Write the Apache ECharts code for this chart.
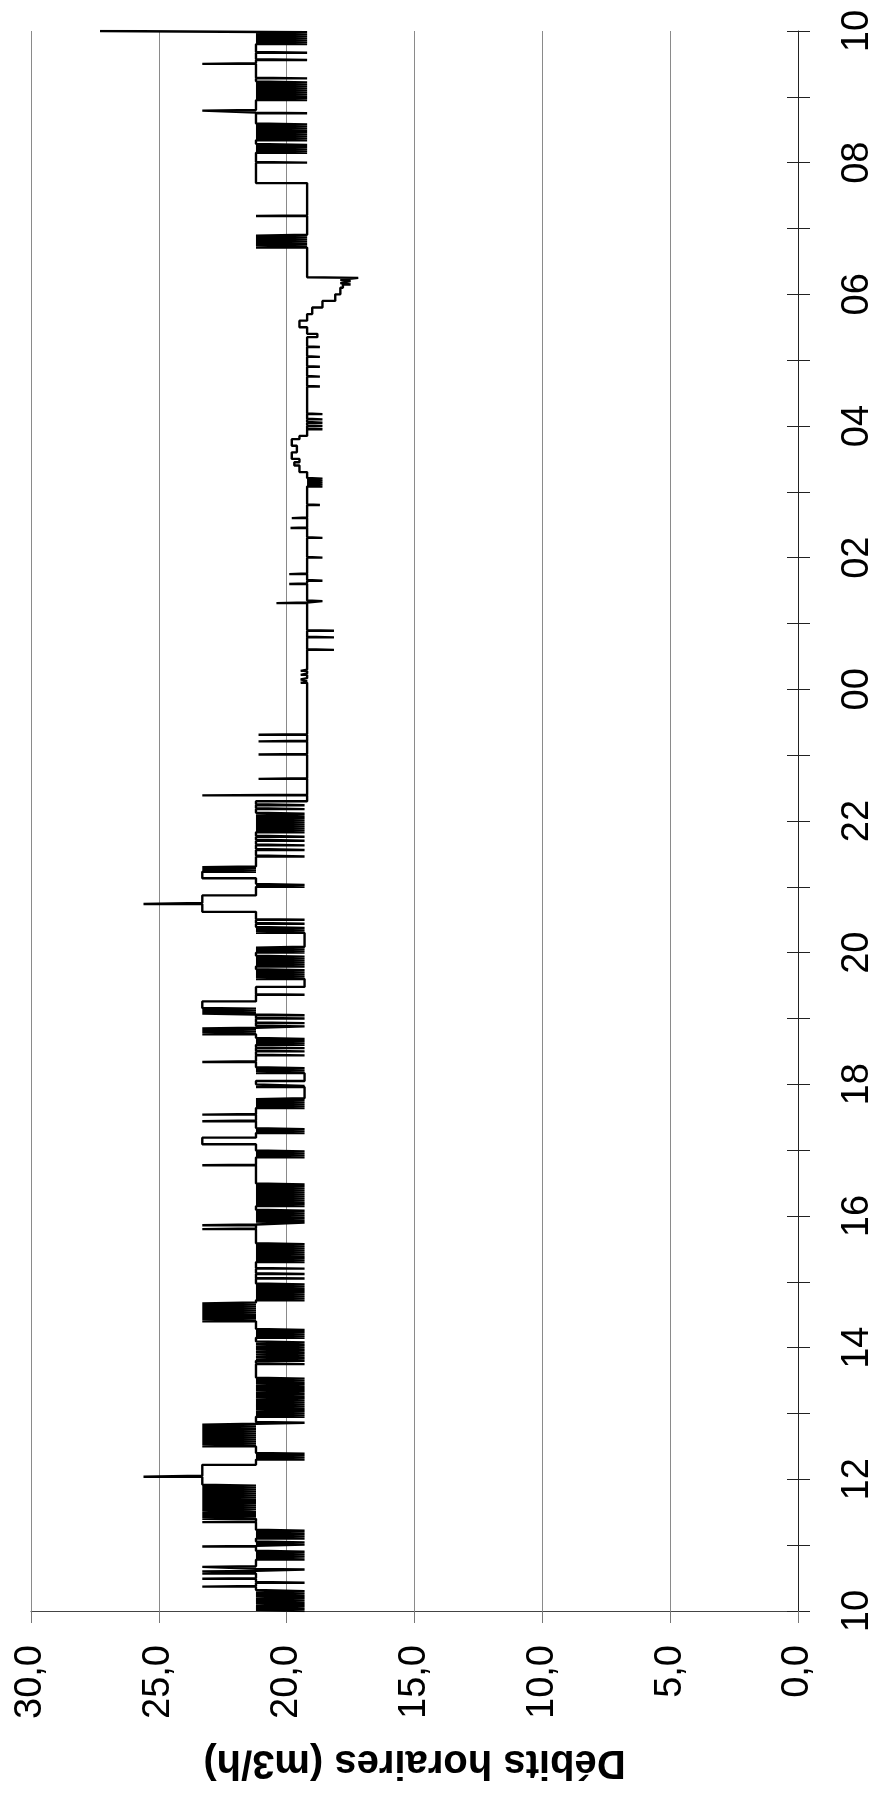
<!DOCTYPE html>
<html>
<head>
<meta charset="utf-8">
<script src="https://cdn.jsdelivr.net/npm/echarts@6/dist/echarts.min.js"></script>
<style>
html,body{margin:0;padding:0;background:#fff;}
#chart{width:877px;height:1795px;}
</style>
</head>
<body>
<div id="chart"></div>
<script>
// Value axis ticks (m3/h) and hour labels
const valueTicks = [0, 5, 10, 15, 20, 25, 30];
const hourLabels = ['10','12','14','16','18','20','22','00','02','04','06','08','10'];
const axisName = 'Débits horaires (m3/h)';

// Samples: [hours since 10:00, flow m3/h]; each value holds until the next sample
const flowDay = [
[0.00,19.3],[0.02,21.2],[0.035,19.3],[0.05,21.2],[0.07,19.3],[0.085,21.2],[0.10,19.3],[0.12,21.2],[0.135,19.3],[0.15,21.2],[0.17,19.3],[0.185,21.2],[0.20,19.3],[0.22,21.2],[0.235,19.3],[0.25,21.2],[0.27,19.3],[0.285,21.2],[0.30,19.3],[0.32,21.2],
[0.37,23.3],[0.38,21.2],[0.43,19.3],[0.44,21.2],[0.49,23.3],[0.50,21.2],[0.57,23.3],[0.58,21.2],[0.60,23.3],[0.61,21.2],[0.63,19.3],[0.64,21.2],[0.67,23.3],[0.68,21.2],
[0.78,19.3],[0.795,21.2],[0.81,19.3],[0.825,21.2],[0.84,19.3],[0.855,21.2],[0.87,19.3],[0.885,21.2],[0.90,19.3],[0.915,21.2],
[0.98,23.3],[0.99,21.2],[1.01,19.3],[1.025,21.2],[1.04,19.3],[1.055,21.2],
[1.10,19.3],[1.115,21.2],[1.13,19.3],[1.145,21.2],[1.16,19.3],[1.175,21.2],[1.19,19.3],[1.205,21.2],[1.22,19.3],[1.235,21.2],
[1.35,23.3],[1.36,21.2],
[1.40,23.3],[1.415,21.2],[1.43,23.3],[1.445,21.2],[1.46,23.3],[1.475,21.2],[1.49,23.3],[1.50,21.2],[1.53,23.3],[1.545,21.2],[1.56,23.3],[1.575,21.2],[1.59,23.3],[1.605,21.2],[1.62,23.3],[1.635,21.2],[1.65,23.3],[1.665,21.2],[1.68,23.3],[1.695,21.2],[1.71,23.3],[1.725,21.2],[1.74,23.3],[1.755,21.2],[1.77,23.3],[1.785,21.2],[1.80,23.3],[1.815,21.2],[1.83,23.3],[1.845,21.2],[1.86,23.3],[1.875,21.2],[1.89,23.3],[1.905,21.2],[1.92,23.3],
[2.04,25.6],[2.055,23.3],
[2.22,21.2],
[2.30,19.3],[2.315,21.2],[2.33,19.3],[2.345,21.2],[2.36,19.3],[2.375,21.2],[2.39,19.3],[2.40,21.2],
[2.50,23.3],[2.515,21.2],[2.53,23.3],[2.545,21.2],[2.56,23.3],[2.575,21.2],[2.59,23.3],[2.605,21.2],[2.62,23.3],[2.635,21.2],[2.65,23.3],[2.665,21.2],[2.68,23.3],[2.695,21.2],[2.71,23.3],[2.725,21.2],[2.74,23.3],[2.755,21.2],[2.77,23.3],[2.785,21.2],[2.80,23.3],[2.815,21.2],[2.83,23.3],[2.845,21.2],
[2.86,19.3],[2.87,21.2],
[2.95,19.3],[2.965,21.2],[2.98,19.3],[2.995,21.2],[3.01,19.3],[3.025,21.2],[3.04,19.3],[3.06,21.2],[3.075,19.3],[3.09,21.2],[3.105,19.3],[3.12,21.2],[3.14,19.3],[3.155,21.2],[3.17,19.3],[3.185,21.2],[3.20,19.3],[3.215,21.2],[3.24,19.3],[3.255,21.2],[3.27,19.3],[3.285,21.2],[3.30,19.3],[3.315,21.2],[3.34,19.3],[3.355,21.2],[3.37,19.3],[3.385,21.2],[3.40,19.3],[3.415,21.2],[3.44,19.3],[3.455,21.2],[3.47,19.3],[3.485,21.2],[3.50,19.3],[3.515,21.2],[3.53,19.3],[3.545,21.2],
[3.75,19.3],[3.765,21.2],[3.80,19.3],[3.815,21.2],[3.84,19.3],[3.855,21.2],[3.88,19.3],[3.895,21.2],[3.92,19.3],[3.935,21.2],[3.96,19.3],[3.975,21.2],[4.00,19.3],[4.015,21.2],[4.04,19.3],[4.055,21.2],[4.08,19.3],[4.095,21.2],
[4.15,19.3],[4.165,21.2],[4.18,19.3],[4.195,21.2],[4.21,19.3],[4.225,21.2],[4.24,19.3],[4.255,21.2],[4.27,19.3],[4.285,21.2],
[4.40,23.3],[4.415,21.2],[4.43,23.3],[4.445,21.2],[4.46,23.3],[4.475,21.2],[4.49,23.3],[4.505,21.2],[4.52,23.3],[4.535,21.2],[4.55,23.3],[4.565,21.2],[4.58,23.3],[4.595,21.2],[4.61,23.3],[4.625,21.2],[4.64,23.3],[4.655,21.2],[4.67,23.3],[4.685,21.2],
[4.72,19.3],[4.735,21.2],[4.75,19.3],[4.765,21.2],[4.78,19.3],[4.795,21.2],[4.81,19.3],[4.825,21.2],[4.84,19.3],[4.855,21.2],[4.87,19.3],[4.885,21.2],[4.90,19.3],[4.915,21.2],[4.93,19.3],[4.945,21.2],[4.96,19.3],[4.975,21.2],
[5.05,19.3],[5.06,21.2],[5.12,19.3],[5.13,21.2],[5.20,19.3],[5.21,21.2],
[5.30,19.3],[5.315,21.2],[5.33,19.3],[5.345,21.2],[5.36,19.3],[5.375,21.2],[5.39,19.3],[5.405,21.2],[5.42,19.3],[5.435,21.2],[5.45,19.3],[5.465,21.2],[5.48,19.3],[5.495,21.2],[5.51,19.3],[5.525,21.2],[5.54,19.3],[5.555,21.2],[5.57,19.3],[5.585,21.2],
[5.80,23.3],[5.81,21.2],[5.86,23.3],[5.87,21.2],
[5.90,19.3],[5.915,21.2],[5.93,19.3],[5.945,21.2],[5.96,19.3],[5.975,21.2],[5.99,19.3],[6.005,21.2],[6.02,19.3],[6.035,21.2],[6.05,19.3],[6.065,21.2],[6.08,19.3],[6.095,21.2],
[6.15,19.3],[6.165,21.2],[6.18,19.3],[6.195,21.2],[6.21,19.3],[6.225,21.2],[6.24,19.3],[6.255,21.2],[6.27,19.3],[6.285,21.2],[6.30,19.3],[6.315,21.2],[6.33,19.3],[6.345,21.2],[6.36,19.3],[6.375,21.2],[6.39,19.3],[6.405,21.2],[6.42,19.3],[6.435,21.2],[6.45,19.3],[6.465,21.2],[6.48,19.3],[6.495,21.2],
[6.77,23.3],[6.78,21.2],
[6.89,19.3],[6.905,21.2],[6.92,19.3],[6.935,21.2],[6.95,19.3],[6.965,21.2],[6.98,19.3],[6.995,21.2]
];

const flowEvening = [
[7.09,23.3],[7.19,21.2],
[7.26,19.3],[7.275,21.2],[7.29,19.3],[7.305,21.2],[7.32,19.3],[7.335,21.2],
[7.44,23.3],[7.45,21.2],[7.54,23.3],[7.55,21.2],
[7.64,19.3],[7.655,21.2],[7.67,19.3],[7.685,21.2],[7.70,19.3],[7.715,21.2],[7.73,19.3],[7.745,21.2],[7.76,19.3],[7.775,21.2],
[7.79,19.3],[7.96,21.2],[7.975,19.3],[8.00,21.2],[8.05,19.3],[8.17,21.2],[8.185,19.3],[8.20,21.2],[8.215,19.3],[8.23,21.2],[8.245,19.3],[8.26,21.2],
[8.34,23.3],[8.35,21.2],
[8.44,19.3],[8.45,21.2],[8.50,19.3],[8.51,21.2],[8.55,19.3],[8.56,21.2],
[8.60,19.3],[8.615,21.2],[8.63,19.3],[8.645,21.2],[8.66,19.3],[8.675,21.2],[8.69,19.3],[8.705,21.2],
[8.76,23.3],[8.775,21.2],[8.79,23.3],[8.805,21.2],[8.82,23.3],[8.835,21.2],[8.85,23.3],[8.86,21.2],
[8.88,19.3],[8.89,21.2],[8.93,19.3],[8.94,21.2],
[9.00,19.3],[9.01,21.2],[9.05,19.3],[9.06,21.2],
[9.075,23.3],[9.09,21.2],[9.105,23.3],[9.12,21.2],[9.135,23.3],[9.15,21.2],[9.16,23.3],[9.26,21.2],
[9.36,19.3],[9.37,21.2],[9.48,19.3],[9.60,21.2],
[9.615,19.3],[9.63,21.2],[9.645,19.3],[9.66,21.2],[9.675,19.3],[9.69,21.2],[9.705,19.3],[9.72,21.2],[9.735,19.3],[9.75,21.2],
[9.79,19.3],[9.805,21.2],[9.82,19.3],[9.835,21.2],[9.85,19.3],[9.865,21.2],[9.88,19.3],[9.895,21.2],[9.91,19.3],[9.925,21.2],[9.94,19.3],[9.955,21.2],
[10.00,19.3],[10.015,21.2],[10.03,19.3],[10.045,21.2],[10.06,19.3],[10.075,21.2],[10.09,19.3],
[10.30,21.2],[10.315,19.3],[10.33,21.2],[10.345,19.3],[10.36,21.2],[10.375,19.3],[10.39,21.2],[10.44,19.3],[10.45,21.2],[10.50,19.3],[10.51,21.2],
[10.62,23.3],[10.74,25.6],[10.755,23.3],[10.87,21.2],
[11.00,19.3],[11.015,21.2],[11.03,19.3],[11.045,21.2],
[11.13,23.3],[11.23,21.2],[11.24,23.3],[11.255,21.2],[11.27,23.3],[11.285,21.2],[11.30,23.3],[11.31,21.2],
[11.46,19.3],[11.475,21.2],[11.56,19.3],[11.575,21.2],[11.63,19.3],[11.645,21.2],[11.70,19.3],[11.715,21.2],[11.76,19.3],[11.775,21.2],
[11.83,19.3],[11.845,21.2],[11.86,19.3],[11.875,21.2],[11.89,19.3],[11.905,21.2],[11.92,19.3],[11.935,21.2],[11.95,19.3],[11.965,21.2],[11.98,19.3],[11.995,21.2],[12.01,19.3],[12.025,21.2],[12.04,19.3],[12.055,21.2],[12.07,19.3],[12.085,21.2],
[12.11,19.3],[12.125,21.2],[12.18,19.3],[12.195,21.2],[12.24,19.3],[12.255,21.2],[12.30,19.2],
[12.39,23.3],[12.40,19.2],
[12.64,21.1],[12.65,19.2],[13.01,21.1],[13.02,19.2],[13.21,21.1],[13.22,19.2],[13.31,21.1],[13.32,19.2]
];

const flowNight = [
[14.10,19.45],[14.12,19.2],[14.15,19.45],[14.17,19.2],[14.22,19.45],[14.24,19.2],[14.28,19.45],[14.30,19.2],
[14.60,18.15],[14.61,19.2],[14.79,18.15],[14.80,19.2],[14.89,18.15],[14.90,19.2],
[15.31,20.4],[15.32,19.2],[15.34,18.6],[15.35,19.2],
[15.60,19.9],[15.61,19.2],[15.65,18.6],[15.66,19.2],[15.75,19.9],[15.76,19.2],
[16.00,18.6],[16.01,19.2],
[16.30,18.6],[16.31,19.2],[16.45,19.85],[16.46,19.2],[16.60,19.8],[16.61,19.2],[16.80,18.7],[16.81,19.2],
[17.08,18.6],[17.09,19.2],[17.11,18.6],[17.12,19.2],[17.14,18.6],[17.15,19.2],[17.17,18.6],[17.18,19.2],[17.20,18.6],[17.21,19.2],
[17.30,19.5],[17.40,19.7],[17.45,19.5],[17.50,19.8],[17.60,19.6],[17.70,19.8],[17.80,19.5],[17.85,19.2],
[17.95,18.6],[17.96,19.2],[18.00,18.6],[18.01,19.2],[18.05,18.6],[18.06,19.2],[18.10,18.6],[18.11,19.2],[18.18,18.6],[18.19,19.2],
[18.60,18.7],[18.61,19.2],[18.75,18.7],[18.76,19.2],[18.90,18.7],[18.91,19.2],[19.05,18.7],[19.06,19.2],[19.20,18.7],[19.21,19.2],[19.35,18.8],[19.40,19.2],
[19.50,19.5],[19.60,19.2],[19.70,19.0],[19.80,18.6],[19.90,18.1],[20.00,17.9],[20.10,17.8],[20.15,17.5],[20.17,17.9],[20.20,17.5],[20.22,17.9],[20.25,17.2],[20.26,19.2]
];

const flowMorning = [
[20.71,21.2],[20.725,19.2],[20.74,21.2],[20.755,19.2],[20.77,21.2],[20.785,19.2],[20.80,21.2],[20.815,19.2],[20.83,21.2],[20.845,19.2],[20.86,21.2],[20.875,19.2],[20.89,21.2],[20.905,19.2],
[21.19,21.2],[21.20,19.2],
[21.69,21.2],[22.00,19.2],[22.01,21.2],
[22.15,19.2],[22.165,21.2],[22.18,19.2],[22.195,21.2],[22.21,19.2],[22.225,21.2],[22.24,19.2],[22.255,21.2],[22.27,19.2],[22.285,21.2],
[22.34,19.2],[22.355,21.2],[22.37,19.2],[22.385,21.2],[22.40,19.2],[22.415,21.2],[22.43,19.2],[22.445,21.2],[22.46,19.2],[22.475,21.2],[22.49,19.2],[22.505,21.2],[22.52,19.2],[22.535,21.2],[22.55,19.2],[22.565,21.2],[22.58,19.2],[22.595,21.2],
[22.75,19.2],[22.76,21.2],[22.79,23.3],[22.80,21.2],
[22.95,19.2],[22.965,21.2],[22.98,19.2],[22.995,21.2],[23.01,19.2],[23.025,21.2],[23.04,19.2],[23.055,21.2],[23.07,19.2],[23.085,21.2],[23.10,19.2],[23.115,21.2],[23.13,19.2],[23.145,21.2],[23.16,19.2],[23.175,21.2],[23.19,19.2],[23.205,21.2],[23.22,19.2],[23.235,21.2],
[23.28,19.2],[23.29,21.2],
[23.50,23.3],[23.51,21.2],[23.56,19.2],[23.57,21.2],[23.67,19.2],[23.68,21.2],
[23.80,19.2],[23.815,21.2],[23.83,19.2],[23.845,21.2],[23.86,19.2],[23.875,21.2],[23.89,19.2],[23.905,21.2],[23.92,19.2],[23.935,21.2],[23.95,19.2],[23.965,21.2],[23.98,19.2],[24.00,27.3]
];

// Build a step line: each value holds until the next sample time
const samples = flowDay.concat(flowEvening, flowNight, flowMorning);
const lineData = [];
for (let i = 0; i < samples.length; i++) {
  const t = samples[i][0], v = samples[i][1];
  lineData.push([v, t]);
  if (i < samples.length - 1) lineData.push([v, samples[i + 1][0]]);
}

const FONT = 'Liberation Sans, Arial, sans-serif';
const hourAxisBase = {
  type: 'value', min: 0, max: 24, interval: 1, position: 'right',
  splitLine: { show: false }
};

const chart = echarts.init(document.getElementById('chart'));
chart.setOption({
  animation: false,
  backgroundColor: '#fff',
  grid: { left: 31, right: 79, top: 31, bottom: 184, containLabel: false },
  xAxis: {
    type: 'value', min: valueTicks[0], max: valueTicks[valueTicks.length - 1], interval: 5,
    inverse: true, position: 'bottom',
    axisLine: { show: true, lineStyle: { color: '#444', width: 1 } },
    axisTick: { show: true, length: 12, lineStyle: { color: '#777', width: 1 } },
    splitLine: { show: true, lineStyle: { color: '#8a8a8a', width: 1 } },
    axisLabel: {
      rotate: 90, margin: 34, fontSize: 38, color: '#000', fontFamily: FONT,
      formatter: v => v.toFixed(1).replace('.', ',')
    },
    name: axisName, nameLocation: 'middle', nameRotate: 180, nameGap: 131,
    nameTextStyle: { fontSize: 40, fontWeight: 'bold', color: '#000', fontFamily: FONT }
  },
  yAxis: [
    Object.assign({}, hourAxisBase, {
      axisLine: { show: true, lineStyle: { color: '#222', width: 1 } },
      axisTick: { show: true, inside: false, length: 12, lineStyle: { color: '#222', width: 1 } },
      axisLabel: {
        rotate: 90, margin: 41, fontSize: 38, color: '#000', fontFamily: FONT,
        formatter: v => (v % 2 === 0 ? hourLabels[v / 2] : '')
      }
    }),
    Object.assign({}, hourAxisBase, {
      axisLine: { show: false },
      axisTick: { show: true, inside: true, length: 11, lineStyle: { color: '#222', width: 1 } },
      axisLabel: { show: false }
    })
  ],
  series: [{
    type: 'line', xAxisIndex: 0, yAxisIndex: 0, data: lineData,
    showSymbol: false, symbol: 'none',
    lineStyle: { color: '#000', width: 2.4 },
    emphasis: { disabled: true }
  }]
});
</script>
</body>
</html>
